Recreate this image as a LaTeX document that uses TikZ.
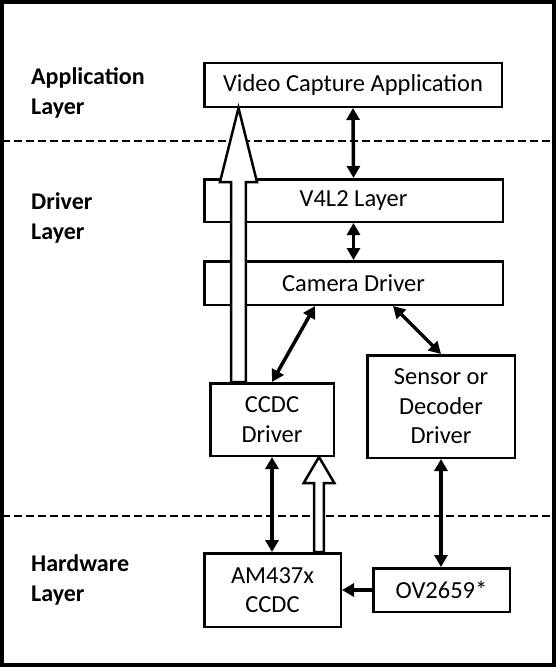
\documentclass[tikz,border=0pt]{standalone}
\usepackage{fontspec}
\setmainfont{Carlito}
\usetikzlibrary{arrows.meta,calc}

\tikzset{
    layerbox/.style={draw, line width=2.5pt, fill=white, inner sep=0pt,
        align=center, font=\fontsize{24.5}{29.5}\selectfont},
    layerlabel/.style={anchor=west, align=left, inner sep=0pt,
        font=\fontsize{24}{30}\selectfont\bfseries},
    link/.style={line width=3.5pt,
        {Triangle[width=13pt,length=12pt]}-{Triangle[width=13pt,length=12pt]}},
    onelink/.style={line width=3.5pt, -{Triangle[width=13pt,length=12pt]}},
    divider/.style={line width=2pt, dash pattern=on 8pt off 4pt},
    hollow/.style={draw, line width=2.5pt, fill=white, miter limit=20}
}

% upward block arrow: foot, tip, half shaft, half head, head length
\newcommand{\blockarrow}[5]{
    \draw[hollow] let \p1=(#1), \p2=(#2) in
        (\x1-#3, \y1) -- (\x1-#3, \y2-#5) -- (\x1-#4, \y2-#5) -- (\x1, \y2)
        -- (\x1+#4, \y2-#5) -- (\x1+#3, \y2-#5) -- (\x1+#3, \y1) -- cycle;
}

\begin{document}
\begin{tikzpicture}[x=1pt, y=-1pt]
    \useasboundingbox (0,0) rectangle (556,669);
    % Draw the frame and the layer borders
    \draw[line width=3.5pt] (2,2) rectangle (554,665);
    \draw[divider] (2,141) -- (554,141);
    \draw[divider] (2,516) -- (554,516);
    % Layer names
    \node[layerlabel] (applabel) at (31,93) {Application\\Layer};
    \node[layerlabel] (drvlabel) at (31,218) {Driver\\Layer};
    \node[layerlabel] (hwlabel) at (31,580) {Hardware\\Layer};
    % Draw the boxes
    \node[layerbox, minimum width=297.5pt, minimum height=43.5pt] (app) at (353,85) {Video Capture Application};
    \node[layerbox, minimum width=298.5pt, minimum height=42.5pt] (v4l2) at (353.5,200.5) {V4L2 Layer};
    \node[layerbox, minimum width=298.5pt, minimum height=43.5pt] (cam) at (353.5,283) {Camera Driver};
    \node[layerbox, minimum width=123.5pt, minimum height=72.5pt] (ccdc) at (272,419.5) {CCDC\\Driver};
    \node[layerbox, minimum width=147.5pt, minimum height=102.5pt] (sensor) at (441,406.5) {Sensor or\\Decoder\\Driver};
    \node[layerbox, minimum width=136.5pt, minimum height=73.5pt] (am) at (272.5,590) {AM437x\\CCDC};
    \node[layerbox, minimum width=136.5pt, minimum height=43.5pt] (ov) at (441.5,590) {OV2659*};
    % Draw the control links
    \draw[link] (app.south) -- (v4l2.north);
    \draw[link] (v4l2.south) -- (cam.north);
    \coordinate (camleft) at ($(cam.south west)+(112,0)$);
    \coordinate (camright) at ($(cam.south west)+(190,0)$);
    \draw[link] (camleft) -- (ccdc.north);
    \draw[link] (camright) -- (sensor.north);
    \draw[link] (ccdc.south) -- (ccdc.south |- am.north);
    \draw[link] (sensor.south) -- (sensor.south |- ov.north);
    \draw[onelink] (ov.west) -- (am.east);
    % Draw the data paths
    \coordinate (bigfoot) at ($(ccdc.north west)+(29.5,0)$);
    \coordinate (bigtip) at (bigfoot |- app.south);
    \blockarrow{bigfoot}{bigtip}{7.3pt}{18.5pt}{74pt}
    \coordinate (smallfoot) at ($(am.north west)+(116,0)$);
    \coordinate (smalltip) at (smallfoot |- ccdc.south);
    \blockarrow{smallfoot}{smalltip}{4.8pt}{15.3pt}{26pt}
\end{tikzpicture}
\end{document}
